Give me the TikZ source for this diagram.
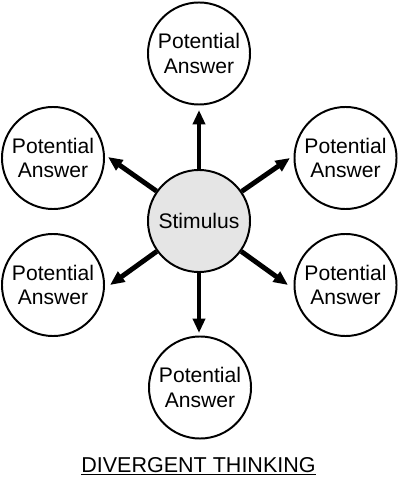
\documentclass[tikz,border=0pt]{standalone}
\usepackage{fontspec}
\setmainfont{Liberation Sans}
\usetikzlibrary{arrows.meta}
\begin{document}
\begin{tikzpicture}[x=0.025cm,y=-0.025cm,
  answer/.style={circle,draw=black,line width=1.4pt,minimum size=2.55cm,inner sep=0pt,
    align=center,font=\fontsize{15}{17.7}\selectfont},
  stimbox/.style={answer,fill=black!10},
  arr/.style={line width=3.5pt,-{Triangle[length=0.36cm,width=0.3cm]}}]
\useasboundingbox (0,0) rectangle (400,477);
\node[stimbox] (stim) at (199,221) {Stimulus};
\node[answer] (top) at (199,53.5) {Potential\\Answer};
\node[answer] (ul) at (53,158) {Potential\\Answer};
\node[answer] (ur) at (345.5,158) {Potential\\Answer};
\node[answer] (ll) at (53,285) {Potential\\Answer};
\node[answer] (lr) at (345.5,285) {Potential\\Answer};
\node[answer] (bot) at (200,387.5) {Potential\\Answer};
\coordinate (ttop) at (199,110);
\coordinate (tul) at (108,157);
\coordinate (tur) at (290,158);
\coordinate (tll) at (110,285);
\coordinate (tlr) at (288,285);
\coordinate (tbot) at (199,333);
\foreach \t in {ttop,tul,tur,tll,tlr,tbot} \draw[arr] (stim) -- (\t);
\node[font=\fontsize{15.3}{18}\selectfont,inner sep=0pt,anchor=base] (title) at (198.5,472) {\underline{DIVERGENT THINKING}};
\end{tikzpicture}
\end{document}
